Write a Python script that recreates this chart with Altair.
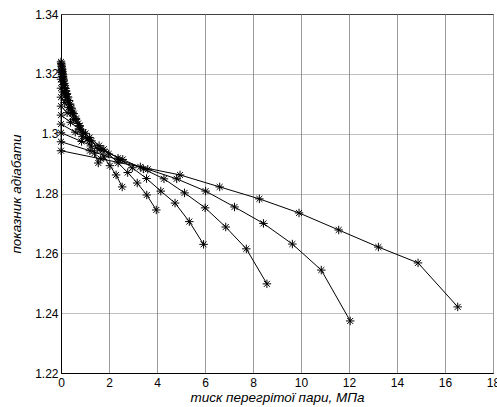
import altair as alt
import pandas as pd

# temperatures (deg C) of each isotherm
temps = [350, 325, 300, 275, 250, 225, 200, 175, 150, 125, 100]

# pressures (MPa) for each isotherm
p350 = [0, 1.653, 3.306, 4.959, 6.612, 8.265, 9.918, 11.571, 13.224, 14.877, 16.53]
p325 = [0, 1.205, 2.41, 3.615, 4.82, 6.025, 7.23, 8.435, 9.64, 10.845, 12.05]
p300 = [0, 0.858, 1.716, 2.574, 3.432, 4.29, 5.148, 6.006, 6.864, 7.722, 8.58]
p275 = [0, 0.594, 1.188, 1.782, 2.376, 2.97, 3.564, 4.158, 4.752, 5.346, 5.94]
p250 = [0, 0.397, 0.794, 1.191, 1.588, 1.985, 2.382, 2.779, 3.176, 3.573, 3.97]
p225 = [0, 0.255, 0.51, 0.765, 1.02, 1.275, 1.53, 1.785, 2.04, 2.295, 2.55]
p200 = [0, 0.155, 0.311, 0.466, 0.622, 0.777, 0.932, 1.088, 1.243, 1.399, 1.554]
p175 = [0, 0.089, 0.178, 0.268, 0.357, 0.446, 0.535, 0.624, 0.714, 0.803, 0.892]
p150 = [0, 0.048, 0.095, 0.143, 0.19, 0.238, 0.286, 0.333, 0.381, 0.428, 0.476]
p125 = [0, 0.023, 0.046, 0.07, 0.093, 0.116, 0.139, 0.162, 0.186, 0.209, 0.232]
p100 = [0, 0.01, 0.02, 0.03, 0.04, 0.05, 0.06, 0.07, 0.08, 0.09, 0.101]

# adiabatic exponent values
k350 = [1.2943, 1.2916, 1.2889, 1.2862, 1.2822, 1.2782, 1.2735, 1.2678, 1.2621, 1.2568, 1.2421]
k325 = [1.2973, 1.2943, 1.2912, 1.2881, 1.2849, 1.2808, 1.2755, 1.2700, 1.2631, 1.2544, 1.2374]
k300 = [1.3003, 1.2974, 1.2944, 1.2914, 1.2882, 1.2849, 1.2802, 1.2752, 1.2688, 1.2615, 1.2498]
k275 = [1.3032, 1.3005, 1.2977, 1.2948, 1.2918, 1.2886, 1.2850, 1.2808, 1.2768, 1.2706, 1.2630]
k250 = [1.3062, 1.3038, 1.3013, 1.2987, 1.2960, 1.2932, 1.2902, 1.2870, 1.2835, 1.2795, 1.2745]
k225 = [1.3092, 1.3070, 1.3048, 1.3025, 1.3001, 1.2976, 1.2950, 1.2922, 1.2893, 1.2862, 1.2822]
k200 = [1.3122, 1.3104, 1.3087, 1.3067, 1.3047, 1.3027, 1.3005, 1.2983, 1.2959, 1.2935, 1.2902]
k175 = [1.3152, 1.3139, 1.3126, 1.3112, 1.3098, 1.3083, 1.3067, 1.3051, 1.3034, 1.3015, 1.2990]
k150 = [1.3182, 1.3173, 1.3164, 1.3154, 1.3144, 1.3134, 1.3123, 1.3111, 1.3099, 1.3086, 1.3070]
k125 = [1.3212, 1.3205, 1.3198, 1.3191, 1.3183, 1.3176, 1.3168, 1.3160, 1.3151, 1.3142, 1.3131]
k100 = [1.3240, 1.3235, 1.3230, 1.3225, 1.3219, 1.3214, 1.3208, 1.3202, 1.3196, 1.3189, 1.3180]

x_ticks = [0, 2, 4, 6, 8, 10, 12, 14, 16, 18]
y_ticks = [1.22, 1.24, 1.26, 1.28, 1.30, 1.32, 1.34]

pressures = [p350, p325, p300, p275, p250, p225, p200, p175, p150, p125, p100]
kvals = [k350, k325, k300, k275, k250, k225, k200, k175, k150, k125, k100]

rows = []
for t, ps, ks in zip(temps, pressures, kvals):
    for i, (p, k) in enumerate(zip(ps, ks)):
        rows.append({"T": t, "i": i, "p": p, "k": k})
df = pd.DataFrame(rows)

FONT = "Liberation Sans"
star = "M-1,0H1M0,-1V1M-0.7,-0.7L0.7,0.7M-0.7,0.7L0.7,-0.7"

xenc = alt.X("p:Q", scale=alt.Scale(domain=[0, 18], nice=False),
             axis=alt.Axis(values=x_ticks, title="тиск перегрітої пари, МПа",
                           format="~g", ticks=False, labelPadding=4,
                           gridColor="#9a9a9a", gridDash=[], gridWidth=1,
                           titlePadding=2, labelFlush=False))
yenc = alt.Y("k:Q", scale=alt.Scale(domain=[1.22, 1.34], nice=False, zero=False),
             axis=alt.Axis(values=y_ticks, title="показник адіабати",
                           format=".3~g", ticks=False, labelPadding=3,
                           gridColor="#808080", gridDash=[1, 1], gridWidth=1,
                           titlePadding=11))

base = alt.Chart(df)
lines = base.mark_line(color="black", strokeWidth=1).encode(
    x=xenc, y=yenc, detail="T:N", order="i:Q")
points = base.mark_point(shape=star, size=72, color="black", filled=False,
                         strokeWidth=1, opacity=1).encode(x=xenc, y=yenc)

chart = (lines + points).properties(
    width=432, height=359,
    autosize=alt.AutoSizeParams(type="none"),
    padding={"left": 61, "top": 14, "right": 4, "bottom": 34},
    background="white",
).configure_view(
    stroke="black", strokeWidth=1
).configure_axis(
    domainColor="black", domainWidth=1,
    labelFont=FONT, labelFontSize=12, labelColor="black",
    titleFont=FONT, titleFontSize=13.5, titleFontStyle="italic",
    titleFontWeight="normal", titleColor="black",
)

chart.save("out.html", embed_options={"renderer": "svg", "actions": False})
